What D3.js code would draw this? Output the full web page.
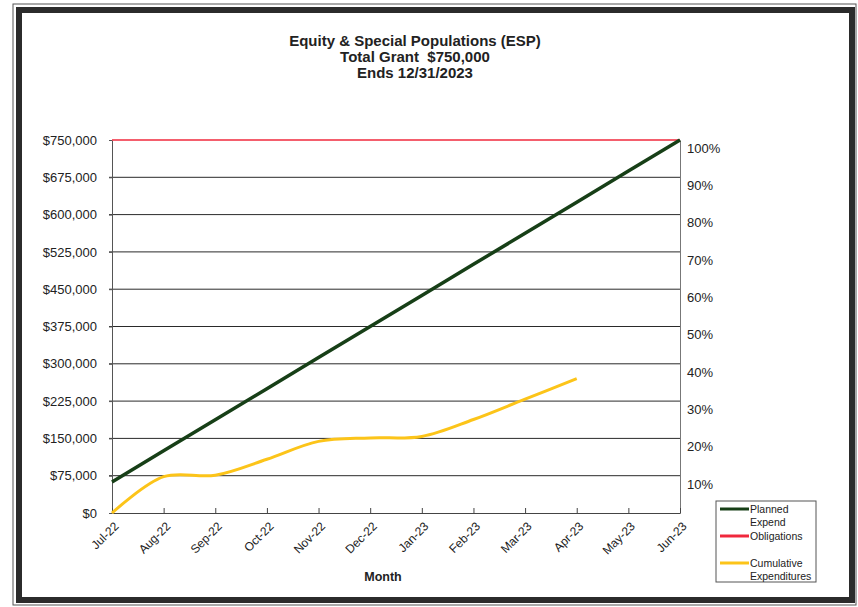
<!DOCTYPE html>
<html>
<head>
<meta charset="utf-8">
<script src="https://cdn.jsdelivr.net/npm/d3@7"></script>
<style>
  body { margin: 0; background: #fff; }
  svg { display: block; font-family: "Liberation Sans", Arial, sans-serif; }
</style>
</head>
<body>
<div class="chart"></div>
<script>
// chart data
const months = ['Jul-22', 'Aug-22', 'Sep-22', 'Oct-22', 'Nov-22', 'Dec-22',
    'Jan-23', 'Feb-23', 'Mar-23', 'Apr-23', 'May-23', 'Jun-23'];
const plannedExpend = [62500, 125000, 187500, 250000, 312500, 375000,
    437500, 500000, 562500, 625000, 687500, 750000];
const obligations = [750000, 750000, 750000, 750000, 750000, 750000,
    750000, 750000, 750000, 750000, 750000, 750000];
const cumulativeExp = [0, 73000, 76000, 108000, 144000, 151000, 154000, 188000, 229000, 270000];
const dollarTicks = [0, 75000, 150000, 225000, 300000, 375000, 450000, 525000, 600000, 675000, 750000];
const pctTicks = [0.1, 0.2, 0.3, 0.4, 0.5, 0.6, 0.7, 0.8, 0.9, 1.0];
const titleLines = ['Equity & Special Populations (ESP)', 'Total Grant  $750,000', 'Ends 12/31/2023'];

const dim = { w: 858, h: 607 }
const plot = { left: 112, right: 680, top: 140, bottom: 513 }

const svg = d3.select('.chart')
    .append('svg')
    .attr('width', dim.w)
    .attr('height', dim.h);

// frame
svg.append('rect')
    .attr('x', 13).attr('y', 4).attr('width', 843).attr('height', 601)
    .attr('fill', 'none').attr('stroke', '#555').attr('stroke-width', 1);
svg.append('rect')
    .attr('x', 19).attr('y', 10).attr('width', 833).attr('height', 590)
    .attr('fill', 'none').attr('stroke', '#2b2b2b').attr('stroke-width', 6);

// title
svg.append('g')
    .selectAll('text')
    .data(titleLines)
    .enter()
    .append('text')
    .attr('x', 415)
    .attr('y', (d, i) => 46 + i * 16)
    .attr('text-anchor', 'middle')
    .attr('font-size', 15)
    .attr('font-weight', 'bold')
    .attr('fill', '#222')
    .style('white-space', 'pre')
    .text(d => d);

const xScale = d3.scalePoint()
    .domain(months)
    .range([plot.left, plot.right]);

const yScale = d3.scaleLinear()
    .domain([0, 750000])
    .range([plot.bottom, plot.top]);

const pctScale = d3.scaleLinear()
    .domain([0, 1])
    .range([plot.bottom, plot.top]);

// gridlines
svg.append('g')
    .selectAll('line')
    .data(dollarTicks.filter(d => d > 0 && d < 750000))
    .enter()
    .append('line')
    .attr('x1', plot.left - 3)
    .attr('x2', plot.right)
    .attr('y1', d => yScale(d))
    .attr('y2', d => yScale(d))
    .attr('stroke', '#2a2a2a')
    .attr('stroke-width', 1);

// left axis
const yAxis = d3.axisLeft(yScale)
    .tickValues(dollarTicks)
    .tickFormat(d => '$' + d3.format(',')(d))
    .tickSizeInner(3)
    .tickSizeOuter(0)
    .tickPadding(12);
const gy = svg.append('g')
    .attr('transform', `translate(${plot.left},0)`)
    .call(yAxis);
gy.selectAll('text').attr('font-size', 13).attr('fill', '#222');
gy.selectAll('line, path').attr('stroke', '#555');

// right axis (percent)
const pAxis = d3.axisRight(pctScale)
    .tickValues(pctTicks)
    .tickFormat(d3.format('.0%'))
    .tickSize(0)
    .tickPadding(7);
const gp = svg.append('g')
    .attr('transform', `translate(${plot.right},0)`)
    .call(pAxis);
gp.selectAll('text').attr('font-size', 13).attr('fill', '#222').attr('dy', '0.95em');
gp.select('path').attr('stroke', '#777');

// bottom axis
const xAxis = d3.axisBottom(xScale)
    .tickSizeInner(-5)
    .tickSizeOuter(0)
    .tickPadding(0);
const gx = svg.append('g')
    .attr('transform', `translate(0,${plot.bottom})`)
    .call(xAxis);
gx.selectAll('line, path').attr('stroke', '#444');
gx.selectAll('text')
    .attr('font-size', 12)
    .attr('fill', '#222')
    .attr('text-anchor', 'end')
    .attr('x', 0)
    .attr('y', 0)
    .attr('dy', '0.35em')
    .attr('transform', 'translate(4,11) rotate(-45)');

svg.append('text')
    .attr('x', 383)
    .attr('y', 581)
    .attr('text-anchor', 'middle')
    .attr('font-size', 12.5)
    .attr('font-weight', 'bold')
    .attr('fill', '#222')
    .text('Month');

// series
const line = d3.line()
    .x((d, i) => xScale(months[i]))
    .y(d => yScale(d));
const smooth = d3.line()
    .x((d, i) => xScale(months[i]))
    .y(d => yScale(d))
    .curve(d3.curveCatmullRom.alpha(0.5));

svg.append('path')
    .datum(obligations)
    .attr('d', line)
    .attr('fill', 'none')
    .attr('stroke', '#f0283c')
    .attr('stroke-width', 1.6);

svg.append('path')
    .datum(plannedExpend)
    .attr('d', line)
    .attr('fill', 'none')
    .attr('stroke', '#173f17')
    .attr('stroke-width', 3.5);

svg.append('path')
    .datum(cumulativeExp)
    .attr('d', smooth)
    .attr('fill', 'none')
    .attr('stroke', '#fcc419')
    .attr('stroke-width', 3);

// legend
const legendItems = [
    { name: ['Planned', 'Expend'], color: '#173f17', y: 509 },
    { name: ['Obligations'], color: '#f0283c', y: 536 },
    { name: ['Cumulative', 'Expenditures'], color: '#fcc419', y: 563 }
]
const legend = svg.append('g');
legend.append('rect')
    .attr('x', 716).attr('y', 501).attr('width', 100).attr('height', 81)
    .attr('fill', '#fff').attr('stroke', '#555').attr('stroke-width', 1);
const items = legend.selectAll('g.item')
    .data(legendItems)
    .enter()
    .append('g')
    .attr('class', 'item');
items.append('line')
    .attr('x1', 720).attr('x2', 749)
    .attr('y1', d => d.y).attr('y2', d => d.y)
    .attr('stroke', d => d.color)
    .attr('stroke-width', 3);
items.each(function (d) {
    d3.select(this).selectAll('text')
        .data(d.name)
        .enter()
        .append('text')
        .attr('x', 750)
        .attr('y', (t, i) => d.y + 4 + i * 13)
        .attr('font-size', 10.5)
        .attr('fill', '#222')
        .text(t => t);
});
</script>
</body>
</html>
